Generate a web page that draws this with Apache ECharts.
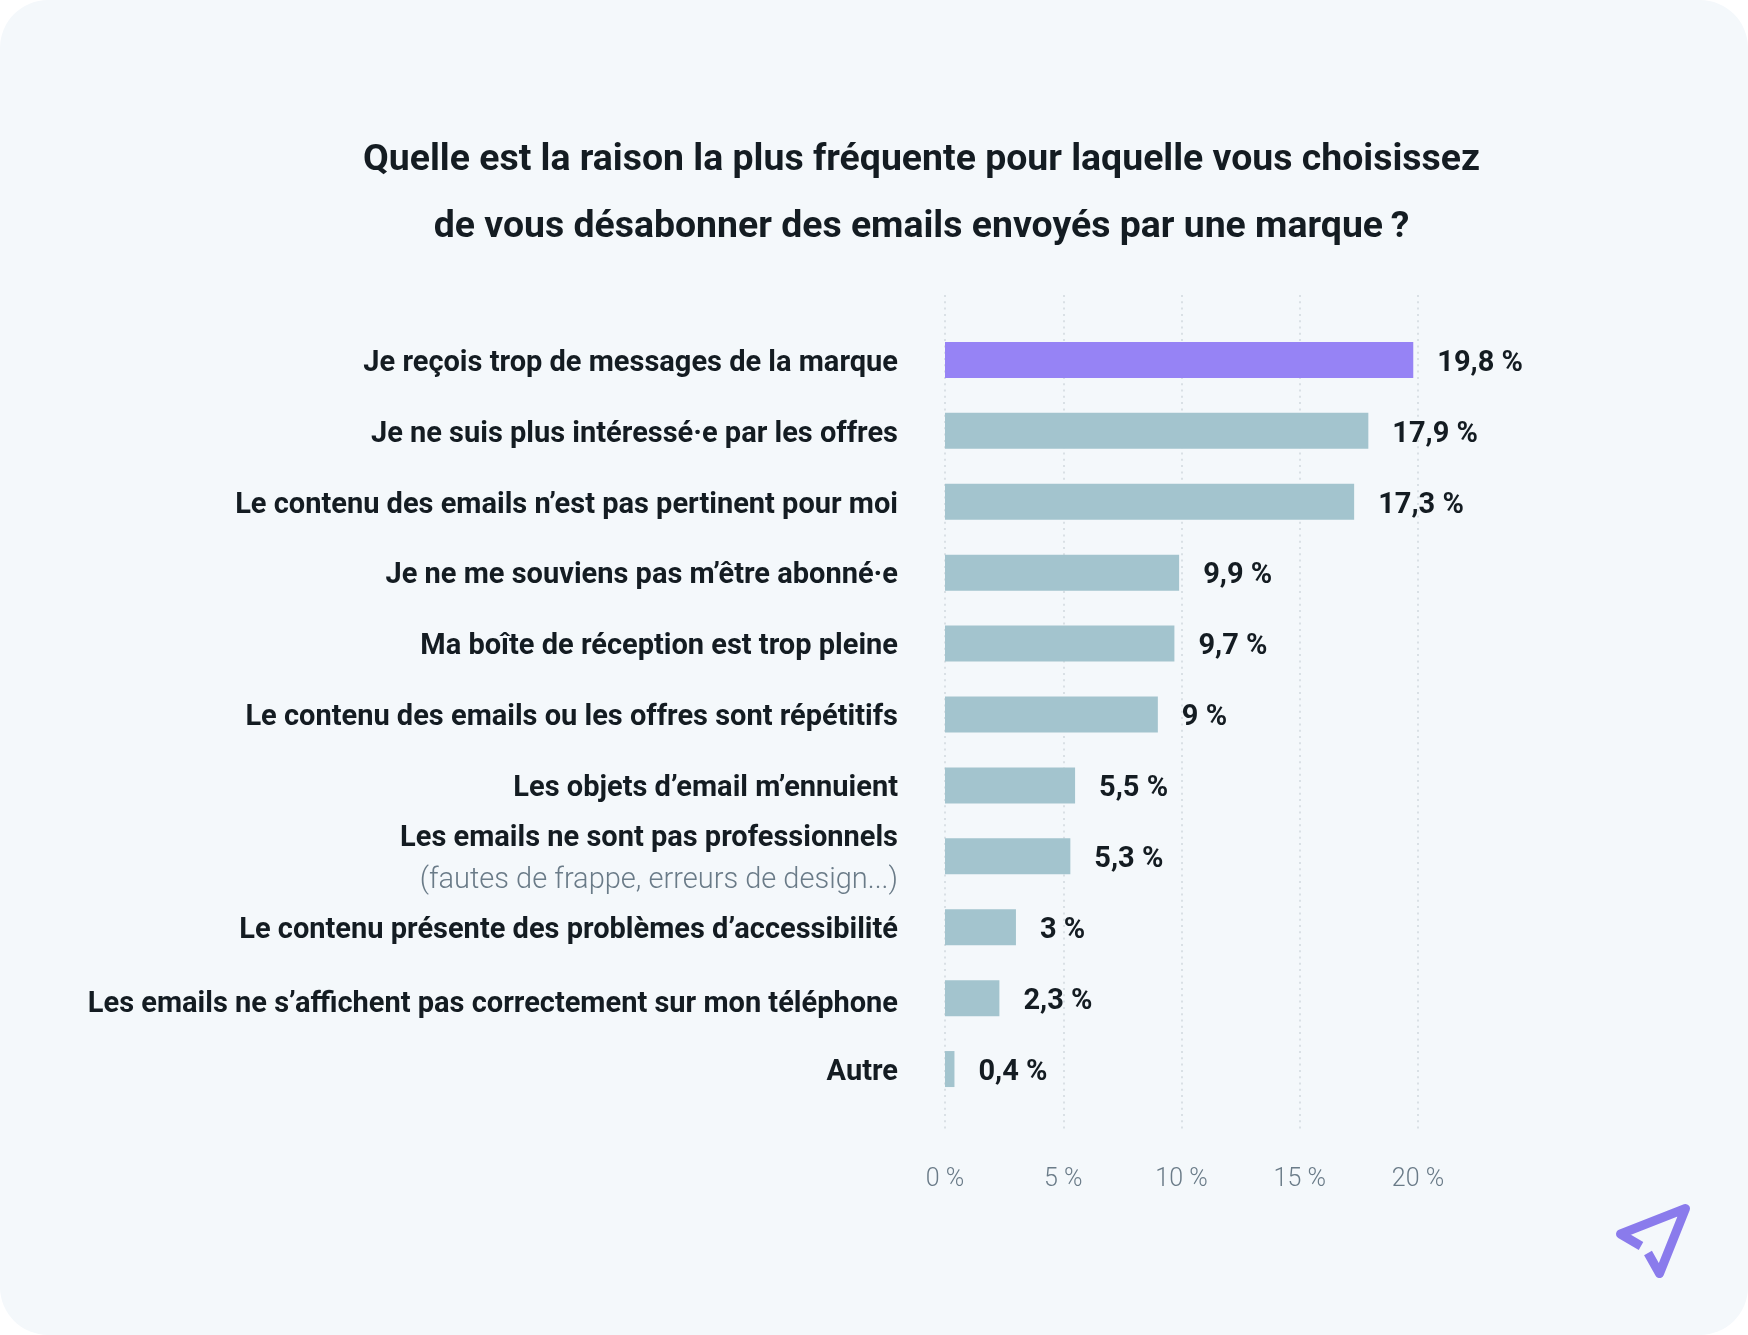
<!DOCTYPE html>
<html>
<head>
<meta charset="utf-8">
<script src="https://cdn.jsdelivr.net/npm/echarts@6/dist/echarts.min.js"></script>
<style>
html, body { margin: 0; padding: 0; background: #ffffff; }
#main { width: 1748px; height: 1335px; background: #f4f8fb; border-radius: 48px; overflow: hidden; }
</style>
</head>
<body>
<div id="main"></div>
<script>
var titleLines = [
    'Quelle est la raison la plus fréquente pour laquelle vous choisissez',
    'de vous désabonner des emails envoyés par une marque\u2009?'
]
var categories = [
    'Je reçois trop de messages de la marque',
    'Je ne suis plus intéressé·e par les offres',
    'Le contenu des emails n’est pas pertinent pour moi',
    'Je ne me souviens pas m’être abonné·e',
    'Ma boîte de réception est trop pleine',
    'Le contenu des emails ou les offres sont répétitifs',
    'Les objets d’email m’ennuient',
    'Les emails ne sont pas professionnels',
    'Le contenu présente des problèmes d’accessibilité',
    'Les emails ne s’affichent pas correctement sur mon téléphone',
    'Autre'
]
var subLabels = { 7: '(fautes de frappe, erreurs de design...)' }
var values = [19.8, 17.9, 17.3, 9.9, 9.7, 9, 5.5, 5.3, 3, 2.3, 0.4]
var highlighted = [0]
var xTicks = [0, 5, 10, 15, 20]

var DARK = '#141c22'
var FONT = 'Roboto'

function pct(v) {
    return String(v).replace('.', ',') + ' %'
}

function catLabel(name, i) {
    // the phone row sits a little lower in the original
    var s = '{' + (i === 9 ? 'low' : 'b') + '|' + name + '}'
    if (subLabels[i]) s += '\n{s|' + subLabels[i] + '}'
    return s
}

var myChart = echarts.init(document.getElementById('main'), null, { renderer: 'canvas' })

var option = {
    animation: false,
    textStyle: { fontFamily: FONT },
    title: {
        text: titleLines.join('\n'),
        left: 916.5,
        top: 122,
        textAlign: 'center',
        textStyle: { fontFamily: FONT, fontSize: 37.4, fontWeight: 700, color: DARK, lineHeight: 67 }
    },
    // grid 0 holds the bars, grid 1 only the taller dotted lines and the ticks
    grid: [
        { left: 945, top: 324.5, width: 473, height: 780 },
        { left: 945, top: 295, width: 473, height: 838 }
    ],
    xAxis: [
        {
            gridIndex: 0, type: 'value', min: xTicks[0], max: xTicks[xTicks.length - 1], interval: 5,
            axisLine: { show: false }, axisTick: { show: false }, axisLabel: { show: false }, splitLine: { show: false }
        },
        {
            gridIndex: 1, type: 'value', min: xTicks[0], max: xTicks[xTicks.length - 1], interval: 5,
            axisLine: { show: false }, axisTick: { show: false },
            axisLabel: {
                margin: 34, fontFamily: FONT, fontSize: 25, fontWeight: 300, color: '#6a7b88',
                formatter: function (v) { return v + ' %' }
            },
            splitLine: { show: true, lineStyle: { color: '#d9e0e5', width: 2, type: [2, 4.3] } }
        }
    ],
    yAxis: [
        {
            gridIndex: 0, type: 'category', inverse: true, data: categories,
            axisLine: { show: false }, axisTick: { show: false },
            axisLabel: {
                margin: 47, align: 'right', padding: [7, 0, 0, 0],
                formatter: catLabel,
                rich: {
                    b: { fontFamily: FONT, fontSize: 29, fontWeight: 700, color: DARK, lineHeight: 42, align: 'right' },
                    low: { fontFamily: FONT, fontSize: 29, fontWeight: 700, color: DARK, lineHeight: 42, align: 'right', padding: [6, 0, 0, 0] },
                    s: { fontFamily: FONT, fontSize: 29, fontWeight: 300, color: '#6a7b88', lineHeight: 42, align: 'right' }
                }
            }
        },
        { gridIndex: 1, type: 'category', data: [], show: false }
    ],
    series: [{
        type: 'bar',
        xAxisIndex: 0,
        yAxisIndex: 0,
        barWidth: 36,
        data: values.map(function (v, i) {
            return { value: v, itemStyle: { color: highlighted.indexOf(i) >= 0 ? '#9683f5' : '#a3c4ce' } }
        }),
        label: {
            show: true, position: 'right', distance: 24, offset: [0, 3.5],
            fontFamily: FONT, fontSize: 29, fontWeight: 700, color: DARK,
            formatter: function (p) { return pct(p.value) }
        }
    }],
    graphic: [{
        type: 'polyline',
        silent: true,
        shape: { points: [[1641, 1246], [1620.5, 1234], [1685.5, 1208.5], [1659.5, 1273.5], [1648, 1253]] },
        style: { fill: null, stroke: '#8a7bec', lineWidth: 9, lineJoin: 'round' }
    }]
}
myChart.setOption(option)
</script>
</body>
</html>
